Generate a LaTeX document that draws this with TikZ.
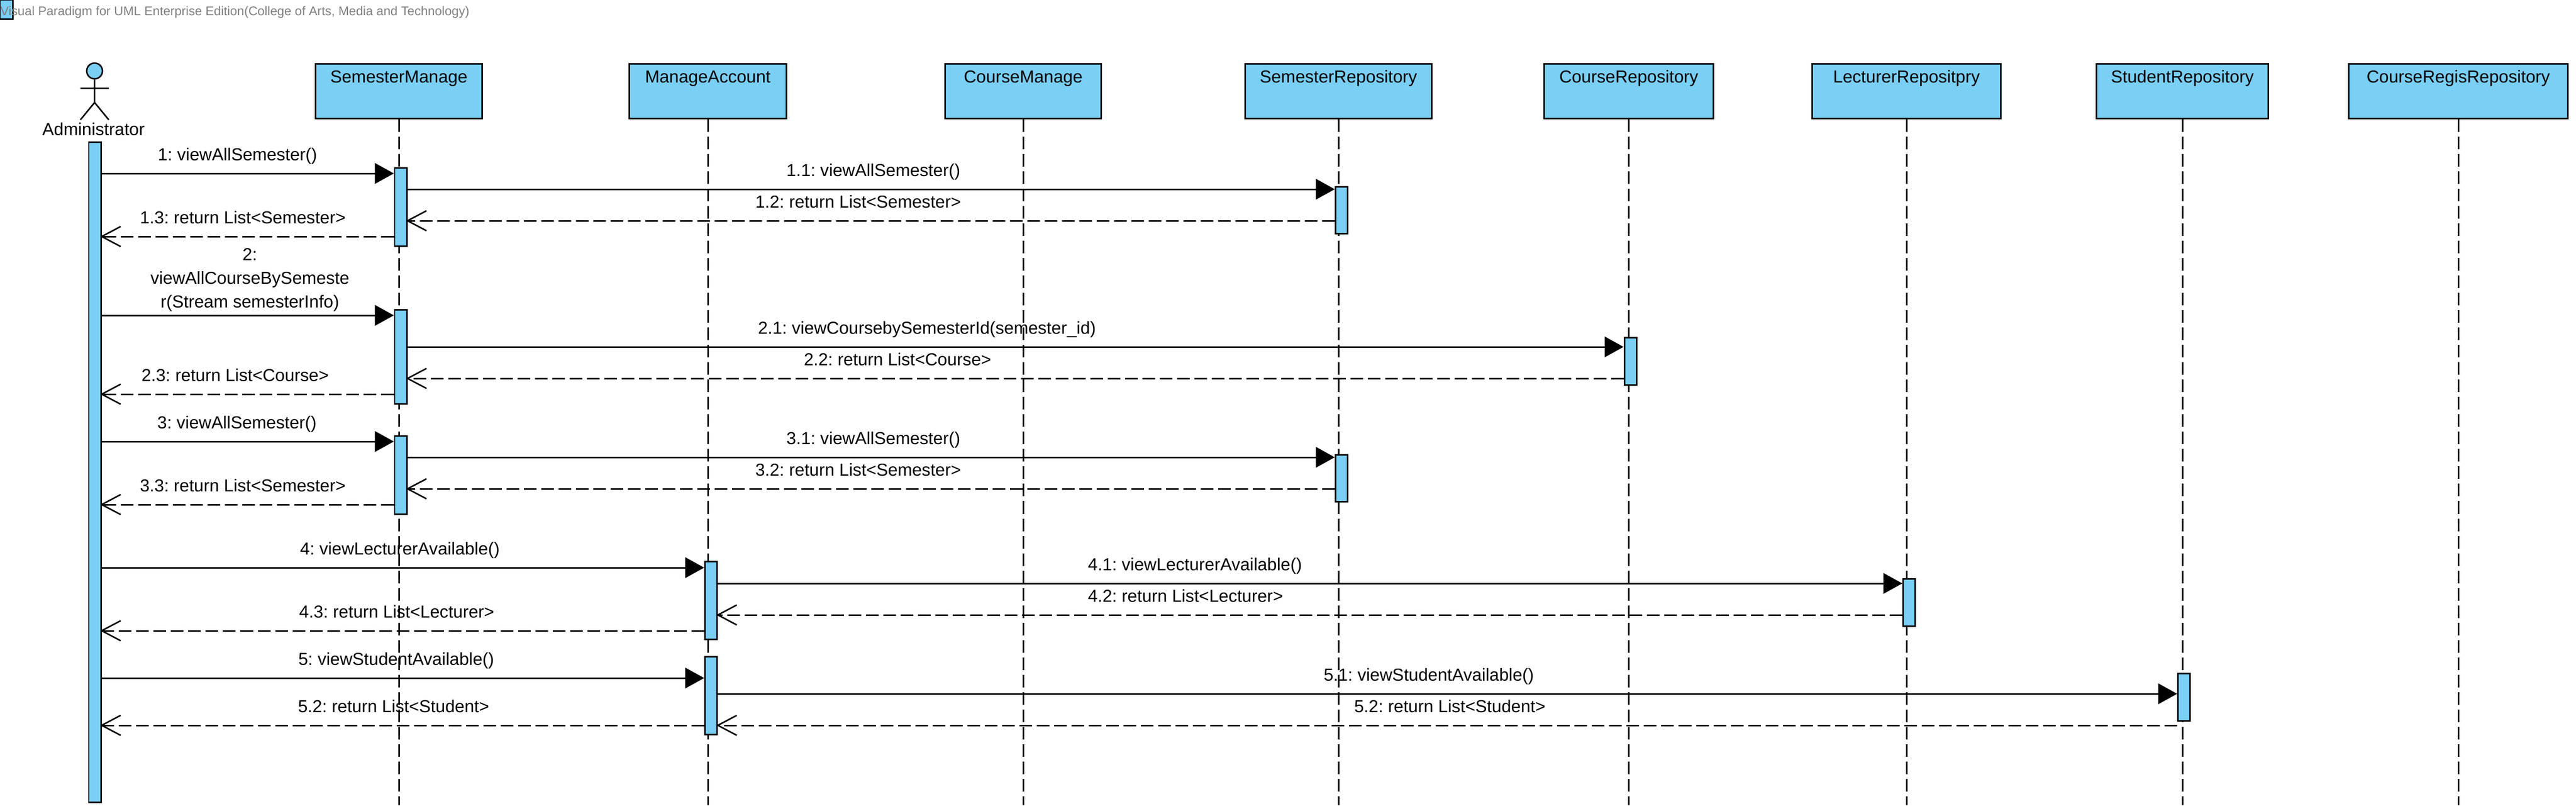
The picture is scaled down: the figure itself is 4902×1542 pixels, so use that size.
\documentclass[tikz,border=0pt]{standalone}
\usepackage{fontspec}
\setmainfont{Liberation Sans}
\usetikzlibrary{arrows.meta}
\definecolor{vpblue}{RGB}{122,207,245}
\tikzset{
  objbox/.style={rectangle,draw,fill=vpblue,line width=.85pt,anchor=north,inner xsep=0pt,inner ysep=0pt,
    text height=.36cm,text depth=.68cm,font=\fontsize{9.4}{12.8}\selectfont\frenchspacing},
  bar/.style={rectangle,draw,fill=vpblue,line width=.85pt,anchor=north west,inner sep=0pt,minimum width=.23cm},
  msg/.style={font=\fontsize{9.4}{12.8}\selectfont\frenchspacing,inner sep=0pt,align=center,anchor=base},
  life/.style={draw,line width=.85pt,dash pattern=on .24cm off .09cm},
  call/.style={draw,line width=.85pt,-{Triangle[length=.36cm,width=.39cm]}},
  ret/.style={draw,line width=.85pt,dash pattern=on .24cm off .09cm,shorten >=-.03cm,-{Straight Barb[length=.36cm,width=.38cm,line width=.8pt]}}
}
\begin{document}
\begin{tikzpicture}[x=.01cm,y=-.01cm]
  \useasboundingbox (0,0) rectangle (4902,1542);

  % title strip
  \node[rectangle,draw,fill=vpblue,line width=.85pt,anchor=north west,inner sep=0pt,minimum width=.24cm,minimum height=.365cm] (icon) at (-1.5,-1.5) {};
  \node[anchor=base west,inner sep=0pt,text=black!50,font=\fontsize{6.85}{8}\selectfont\frenchspacing] (title) at (0,29)
    {Visual Paradigm for UML Enterprise Edition(College of Arts, Media and Technology)};

  % actor
  \node[circle,draw,fill=vpblue,line width=.8pt,inner sep=0pt,minimum size=.30cm] (head) at (180,135) {};
  \coordinate (neck) at (180,195);
  \coordinate (arml) at (153,168);
  \coordinate (armr) at (207,168);
  \coordinate (legl) at (153,228);
  \coordinate (legr) at (207,228);
  \draw[line width=.8pt] (head) -- (neck) (arml) -- (armr) (legl) -- (neck) -- (legr);
  \node[msg] (actorname) at (178,257) {Administrator};

  % object boxes
  \begin{scope}[every node/.style={objbox}]
    \node[minimum width=3.17cm] (semmanage)  at (759,120)  {SemesterManage};
    \node[minimum width=2.98cm] (account)    at (1347,120) {ManageAccount};
    \node[minimum width=2.96cm] (coursemng)  at (1947,120) {CourseManage};
    \node[minimum width=3.54cm] (semrepo)    at (2547,120) {SemesterRepository};
    \node[minimum width=3.21cm] (courserepo) at (3099.5,120) {CourseRepository};
    \node[minimum width=3.58cm] (lectrepo)   at (3628,120) {LecturerRepositpry};
    \node[minimum width=3.26cm] (studrepo)   at (4153,120) {StudentRepository};
    \node[minimum width=4.16cm] (regisrepo)  at (4678,120) {CourseRegisRepository};
  \end{scope}

  % lifelines
  \coordinate (bottom) at (0,1532);
  \begin{scope}[every edge/.style={life}]
    \path (semmanage)  edge (semmanage |- bottom);
    \path (account)    edge (account |- bottom);
    \path (coursemng)  edge (coursemng |- bottom);
    \path (semrepo)    edge (semrepo |- bottom);
    \path (courserepo) edge (courserepo |- bottom);
    \path (lectrepo)   edge (lectrepo |- bottom);
    \path (studrepo)   edge (studrepo |- bottom);
    \path (regisrepo)  edge (regisrepo |- bottom);
  \end{scope}

  % activation bars
  \begin{scope}[every node/.style={bar}]
    \node[minimum height=12.55cm] (admin) at (167.5,269) {};
    \node[minimum height=1.49cm] (sm1) at (749.5,318) {};
    \node[minimum height=1.79cm] (sm2) at (749.5,588) {};
    \node[minimum height=1.49cm] (sm3) at (749.5,828) {};
    \node[minimum height=1.48cm] (ma1) at (1340,1067) {};
    \node[minimum height=1.48cm] (ma2) at (1340,1248) {};
    \node[minimum height=.89cm]  (sr1) at (2540,354) {};
    \node[minimum height=.89cm]  (sr2) at (2540,864) {};
    \node[minimum height=.90cm]  (cr1) at (3089.5,641) {};
    \node[minimum height=.90cm]  (lr1) at (3620,1100) {};
    \node[minimum height=.90cm]  (st1) at (4143,1280) {};
  \end{scope}

  % message rows
  \coordinate (r1)  at (0,330);
  \coordinate (r11) at (0,360);
  \coordinate (r12) at (0,420);
  \coordinate (r13) at (0,450);
  \coordinate (r2)  at (0,600);
  \coordinate (r21) at (0,660);
  \coordinate (r22) at (0,720);
  \coordinate (r23) at (0,750);
  \coordinate (r3)  at (0,840);
  \coordinate (r31) at (0,870);
  \coordinate (r32) at (0,930);
  \coordinate (r33) at (0,960);
  \coordinate (r4)  at (0,1080);
  \coordinate (r41) at (0,1110);
  \coordinate (r42) at (0,1170);
  \coordinate (r43) at (0,1200);
  \coordinate (r5)  at (0,1290);
  \coordinate (r51) at (0,1320);
  \coordinate (r52) at (0,1380);

  % messages
  \path (admin.east |- r1)  edge[call] (sm1.west |- r1);
  \path (sm1.east |- r11)   edge[call] (sr1.west |- r11);
  \path (sr1.west |- r12)   edge[ret]  (sm1.east |- r12);
  \path (sm1.west |- r13)   edge[ret]  (admin.east |- r13);
  \path (admin.east |- r2)  edge[call] (sm2.west |- r2);
  \path (sm2.east |- r21)   edge[call] (cr1.west |- r21);
  \path (cr1.west |- r22)   edge[ret]  (sm2.east |- r22);
  \path (sm2.west |- r23)   edge[ret]  (admin.east |- r23);
  \path (admin.east |- r3)  edge[call] (sm3.west |- r3);
  \path (sm3.east |- r31)   edge[call] (sr2.west |- r31);
  \path (sr2.west |- r32)   edge[ret]  (sm3.east |- r32);
  \path (sm3.west |- r33)   edge[ret]  (admin.east |- r33);
  \path (admin.east |- r4)  edge[call] (ma1.west |- r4);
  \path (ma1.east |- r41)   edge[call] (lr1.west |- r41);
  \path (lr1.west |- r42)   edge[ret]  (ma1.east |- r42);
  \path (ma1.west |- r43)   edge[ret]  (admin.east |- r43);
  \path (admin.east |- r5)  edge[call] (ma2.west |- r5);
  \path (ma2.east |- r51)   edge[call] (st1.west |- r51);
  \path (st1.west |- r52)   edge[ret]  (ma2.east |- r52);
  \path (ma2.west |- r52)   edge[ret]  (admin.east |- r52);

  % message labels
  \begin{scope}[every node/.style={msg}]
    \node (t1)  at (452,305)   {1: viewAllSemester()};
    \node (t11) at (1662,335)  {1.1: viewAllSemester()};
    \node (t12) at (1633,395)  {1.2: return List<Semester>};
    \node (t13) at (462,425)   {1.3: return List<Semester>};
    \node[anchor=center] (t2) at (475.5,532) {2:\\viewAllCourseBySemeste\\r(Stream semesterInfo)};
    \node (t21) at (1764,635)  {2.1: viewCoursebySemesterId(semester\_id)};
    \node (t22) at (1708,695)  {2.2: return List<Course>};
    \node (t23) at (447.5,725) {2.3: return List<Course>};
    \node (t3)  at (451,815)   {3: viewAllSemester()};
    \node (t31) at (1662,845)  {3.1: viewAllSemester()};
    \node (t32) at (1633,905)  {3.2: return List<Semester>};
    \node (t33) at (462,935)   {3.3: return List<Semester>};
    \node (t4)  at (761,1055)  {4: viewLecturerAvailable()};
    \node (t41) at (2274,1085) {4.1: viewLecturerAvailable()};
    \node (t42) at (2256,1145) {4.2: return List<Lecturer>};
    \node (t43) at (755,1175)  {4.3: return List<Lecturer>};
    \node (t5)  at (754,1265)  {5: viewStudentAvailable()};
    \node (t51) at (2719,1295) {5.1: viewStudentAvailable()};
    \node (t52) at (2759,1355) {5.2: return List<Student>};
    \node (t53) at (749,1355)  {5.2: return List<Student>};
  \end{scope}

\end{tikzpicture}
\end{document}
